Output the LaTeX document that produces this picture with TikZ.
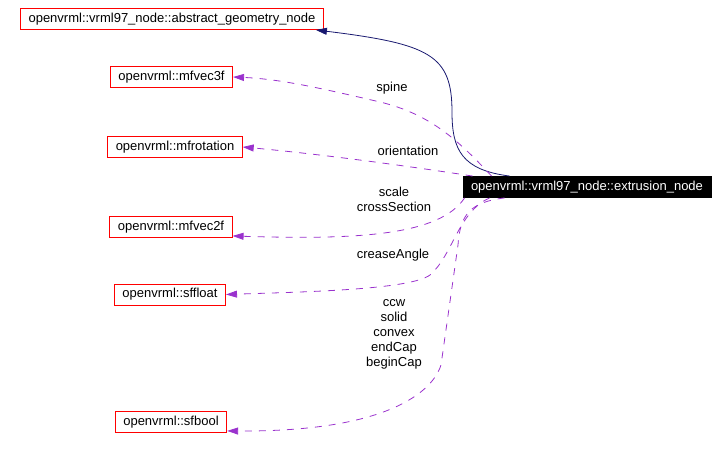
\documentclass[tikz,border=0pt]{standalone}
\usepackage{fontspec}
\setmainfont{Liberation Sans}
\usepackage{tikz}
\usetikzlibrary{arrows.meta, positioning}
\definecolor{EdgeBlue}{HTML}{191970}
\definecolor{EdgePurple}{HTML}{9A32CD}
\definecolor{BoxRed}{HTML}{FF0000}

\begin{document}
\begin{tikzpicture}[x=1pt, y=-1pt,
  box/.style={rectangle, minimum height=21pt, inner xsep=8pt, inner ysep=0pt,
    font=\fontsize{13pt}{15pt}\selectfont, draw=BoxRed, line width=0.9pt, fill=white},
  focus/.style={box, draw=black, fill=black, text=white},
  lbl/.style={font=\fontsize{13pt}{15pt}\selectfont, align=center, inner sep=0pt},
  inherit/.style={-{Triangle[length=11pt, width=7pt]}, color=EdgeBlue, line width=0.8pt},
  member/.style={-{Triangle[length=11pt, width=7pt]}, color=EdgePurple, line width=0.8pt,
    dash pattern=on 7pt off 7pt}
]
\useasboundingbox (0,0) rectangle (726,452);

\node[box] (geom) at (172,19) {openvrml::vrml97\_node::abstract\_geometry\_node};
\node[box] (vecthree) at (171.5,77) {openvrml::mfvec3f};
\node[box] (rot) at (175,147) {openvrml::mfrotation};
\node[box] (vectwo) at (171,227) {openvrml::mfvec2f};
\node[box] (sfl) at (170,294.5) {openvrml::sffloat};
\node[box] (sfb) at (171,422) {openvrml::sfbool};
\node[focus] (ext) at (587,187) {openvrml::vrml97\_node::extrusion\_node};

% inheritance
\draw[inherit] ([xshift=47pt]ext.north west) .. controls (462,170) and (452,150) .. (452,112)
  .. controls (452,55) and (430,44) .. ([xshift=-8pt]geom.south east);
% members
\draw[member] ([xshift=29pt]ext.north west) .. controls (458,140) and (430,114) .. (380,102)
  .. controls (320,88) and (280,79) .. (vecthree.east);
\draw[member] ([xshift=10pt]ext.north west) .. controls (420,168) and (330,155) .. (rot.east);
\draw[member] ([xshift=2pt]ext.south west) .. controls (440,235) and (360,240) .. ([yshift=2pt]vectwo.south east);
\draw[member] ([xshift=27pt]ext.south west) .. controls (458,212) and (453,255) .. (430,275)
  .. controls (410,290) and (300,292) .. (sfl.east);
\draw[member] ([xshift=42pt]ext.south west) .. controls (470,202) and (460,215) .. (458,245)
  -- (441,365) .. controls (435,385) and (400,432) .. ([yshift=2pt]sfb.south east);

\node[lbl] (spine) at (392,88) {spine};
\node[lbl] (orient) at (408,151) {orientation};
\node[lbl] (cross) at (394,199.5) {scale\\crossSection};
\node[lbl] (crease) at (393,255) {creaseAngle};
\node[lbl] (flags) at (394,334) {ccw\\solid\\convex\\endCap\\beginCap};
\end{tikzpicture}
\end{document}
